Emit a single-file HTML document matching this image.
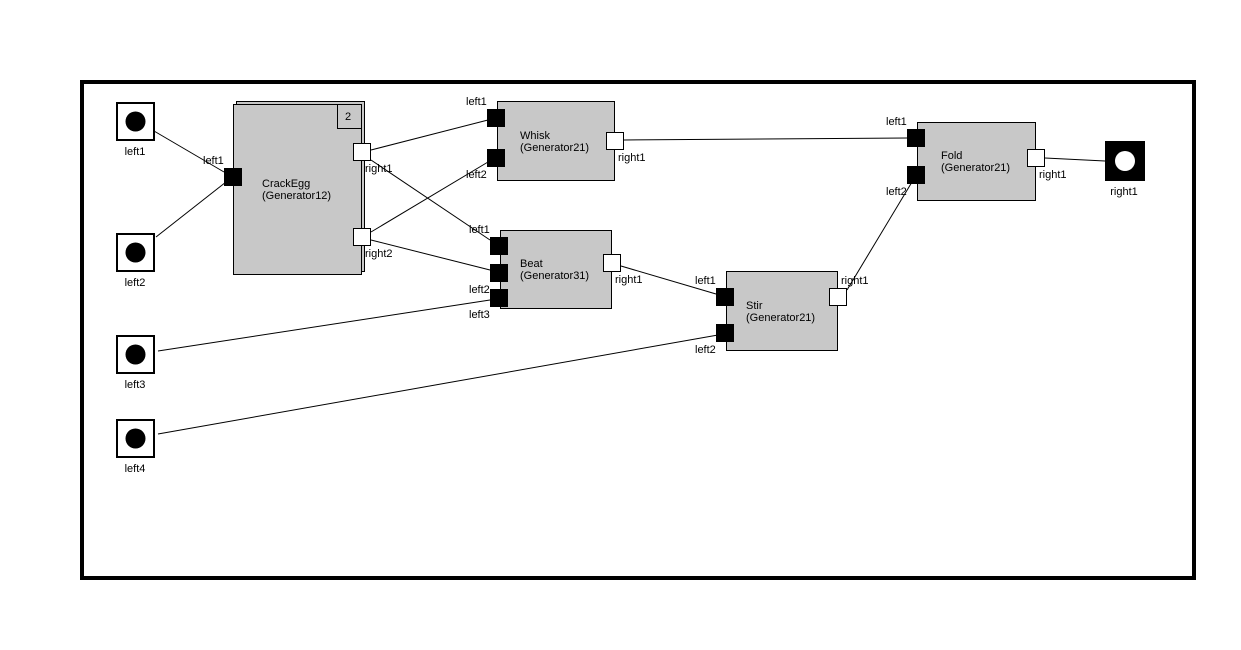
<!DOCTYPE html>
<html><head><meta charset="utf-8"><style>
html,body{margin:0;padding:0;background:#fff;}
svg text{font-family:"Liberation Sans",sans-serif;font-size:11px;fill:#000;}
</style></head><body>
<svg width="1241" height="645" viewBox="0 0 1241 645" xmlns="http://www.w3.org/2000/svg">
<rect x="82" y="82" width="1112" height="496" fill="#fff" stroke="#000" stroke-width="4"/>
<g stroke="#000" stroke-width="1" fill="none">
<line x1="154" y1="131" x2="224" y2="172"/>
<line x1="156" y1="237" x2="226" y2="182"/>
<line x1="371" y1="150" x2="488" y2="120"/>
<line x1="371" y1="160" x2="490" y2="240"/>
<line x1="371" y1="232" x2="488" y2="162"/>
<line x1="371" y1="240" x2="490" y2="270"/>
<line x1="158" y1="351" x2="490" y2="300"/>
<line x1="158" y1="434" x2="718" y2="335"/>
<line x1="624" y1="140" x2="908" y2="138"/>
<line x1="621" y1="266" x2="716" y2="294"/>
<line x1="847" y1="290" x2="912" y2="182"/>
<line x1="1045" y1="158" x2="1105" y2="161"/>
</g>
<!-- inputs -->
<g stroke="#000" stroke-width="2" fill="#fff">
<rect x="117" y="103" width="37" height="37"/>
<rect x="117" y="234" width="37" height="37"/>
<rect x="117" y="336" width="37" height="37"/>
<rect x="117" y="420" width="37" height="37"/>
</g>
<g fill="#000">
<circle cx="135.5" cy="121.5" r="10"/>
<circle cx="135.5" cy="252.5" r="10"/>
<circle cx="135.5" cy="354.5" r="10"/>
<circle cx="135.5" cy="438.5" r="10"/>
</g>
<text x="135" y="155" text-anchor="middle">left1</text>
<text x="135" y="286" text-anchor="middle">left2</text>
<text x="135" y="388" text-anchor="middle">left3</text>
<text x="135" y="472" text-anchor="middle">left4</text>
<!-- output -->
<rect x="1105" y="141" width="40" height="40" fill="#000"/>
<circle cx="1125" cy="161" r="10" fill="#fff"/>
<text x="1124" y="195" text-anchor="middle">right1</text>
<!-- nodes -->
<g stroke="#000" stroke-width="1" fill="#c8c8c8">
<rect x="236.5" y="101.5" width="128" height="170"/>
<rect x="233.5" y="104.5" width="128" height="170"/>
<rect x="337.5" y="104.5" width="24" height="24"/>
<rect x="497.5" y="101.5" width="117" height="79"/>
<rect x="500.5" y="230.5" width="111" height="78"/>
<rect x="726.5" y="271.5" width="111" height="79"/>
<rect x="917.5" y="122.5" width="118" height="78"/>
</g>
<text x="345" y="120">2</text>
<text x="262" y="187">CrackEgg</text><text x="262" y="199">(Generator12)</text>
<text x="520" y="139">Whisk</text><text x="520" y="151">(Generator21)</text>
<text x="520" y="267">Beat</text><text x="520" y="279">(Generator31)</text>
<text x="746" y="309">Stir</text><text x="746" y="321">(Generator21)</text>
<text x="941" y="159">Fold</text><text x="941" y="171">(Generator21)</text>
<!-- ports -->
<g fill="#000">
<rect x="224" y="168" width="18" height="18"/>
<rect x="487" y="109" width="18" height="18"/>
<rect x="487" y="149" width="18" height="18"/>
<rect x="490" y="237" width="18" height="18"/>
<rect x="490" y="264" width="18" height="18"/>
<rect x="490" y="289" width="18" height="18"/>
<rect x="716" y="288" width="18" height="18"/>
<rect x="716" y="324" width="18" height="18"/>
<rect x="907" y="129" width="18" height="18"/>
<rect x="907" y="166" width="18" height="18"/>
</g>
<g fill="#fff" stroke="#000" stroke-width="1">
<rect x="353.5" y="143.5" width="17" height="17"/>
<rect x="353.5" y="228.5" width="17" height="17"/>
<rect x="606.5" y="132.5" width="17" height="17"/>
<rect x="603.5" y="254.5" width="17" height="17"/>
<rect x="829.5" y="288.5" width="17" height="17"/>
<rect x="1027.5" y="149.5" width="17" height="17"/>
</g>
<text x="203" y="164">left1</text>
<text x="365" y="172">right1</text>
<text x="365" y="257">right2</text>
<text x="466" y="105">left1</text>
<text x="466" y="178">left2</text>
<text x="618" y="161">right1</text>
<text x="469" y="233">left1</text>
<text x="469" y="293">left2</text>
<text x="469" y="318">left3</text>
<text x="615" y="283">right1</text>
<text x="695" y="284">left1</text>
<text x="695" y="353">left2</text>
<text x="841" y="284">right1</text>
<text x="886" y="125">left1</text>
<text x="886" y="195">left2</text>
<text x="1039" y="178">right1</text>
</svg>
</body></html>
